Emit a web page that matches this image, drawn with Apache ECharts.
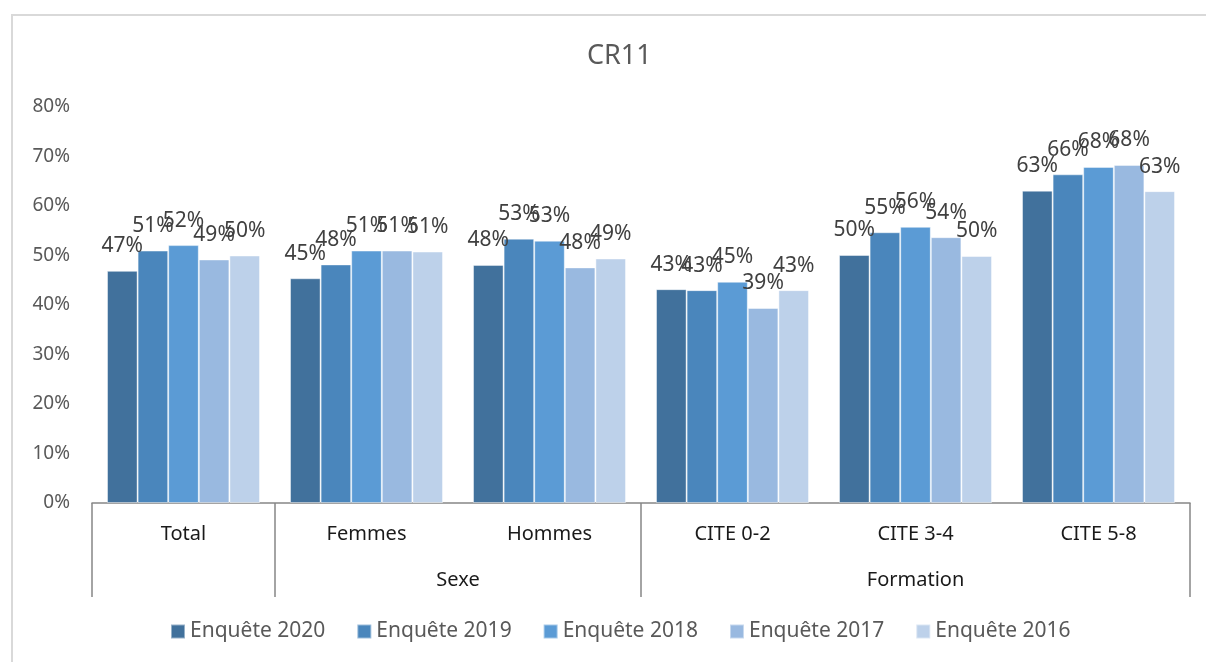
<!DOCTYPE html>
<html>
<head>
<meta charset="utf-8">
<script src="https://cdn.jsdelivr.net/npm/echarts@6/dist/echarts.min.js"></script>
<style>
  html, body { margin: 0; padding: 0; background: #fff; }
  .frame {
    position: absolute; left: 11px; top: 14px;
    width: 1300px; height: 800px;
    border: 2px solid #d9d9d9; box-sizing: border-box;
  }
  #chart { position: absolute; left: 0; top: 0; width: 1206px; height: 662px; }
</style>
</head>
<body>
<div class="frame"></div>
<div id="chart"></div>
<script>
// catégories et groupes
const categories = ['Total', 'Femmes', 'Hommes', 'CITE 0-2', 'CITE 3-4', 'CITE 5-8']
// 13 points (demi-catégories) pour le second niveau de l'axe
const groupLabels = ['', '', '', '', 'Sexe', '', '', '', '', 'Formation', '', '', '']
const groupTicks = [0, 2, 6, 12]

const seriesNames = ['Enquête 2020', 'Enquête 2019', 'Enquête 2018', 'Enquête 2017', 'Enquête 2016']
const v2020 = [46.9, 45.4, 48.1, 43.2, 50.1, 63.1]
const v2019 = [51.0, 48.2, 53.4, 43.0, 54.7, 66.4]
const v2018 = [52.1, 51.0, 53.0, 44.7, 55.8, 67.9]
const v2017 = [49.2, 51.0, 47.6, 39.4, 53.7, 68.3]
const v2016 = [50.0, 50.8, 49.4, 43.0, 49.9, 63.0]
const yTicks = { min: 0, max: 80, interval: 10 }

const colors = ['#41719c', '#4a86bc', '#5b9bd5', '#99b9e0', '#bdd1ea']
const values = [v2020, v2019, v2018, v2017, v2016]

const chart = echarts.init(document.getElementById('chart'))
const font = '"Noto Sans", "Open Sans", sans-serif'

const option = {
  backgroundColor: 'transparent',
  color: colors,
  title: {
    text: 'CR11',
    left: 582,
    top: 38,
    textStyle: { color: '#595959', fontSize: 27, fontWeight: 'normal', fontFamily: font }
  },
  legend: {
    data: seriesNames,
    bottom: 15,
    left: 165,
    itemWidth: 14,
    itemHeight: 14,
    itemGap: 31,
    icon: 'rect',
    textStyle: { color: '#595959', fontSize: 21, fontFamily: font }
  },
  grid: { left: 92, right: 16, top: 107, bottom: 159 },
  xAxis: [
    {
      type: 'category',
      data: categories,
      axisLine: { lineStyle: { color: '#868686', width: 1.5 } },
      axisTick: { show: false },
      axisLabel: { color: '#1a1a1a', fontSize: 20, margin: 21, fontFamily: font, interval: 0 }
    },
    {
      type: 'category',
      position: 'bottom',
      data: groupLabels,
      boundaryGap: false,
      axisLine: { show: false },
      axisTick: {
        show: true,
        length: 94,
        interval: (idx) => groupTicks.includes(idx),
        lineStyle: { color: '#868686', width: 1.5 }
      },
      axisLabel: { color: '#1a1a1a', fontSize: 20, margin: 67, fontFamily: font, interval: 0 }
    }
  ],
  yAxis: {
    type: 'value',
    min: yTicks.min,
    max: yTicks.max,
    interval: yTicks.interval,
    axisLine: { show: false },
    axisTick: { show: false },
    splitLine: { show: false },
    axisLabel: { color: '#595959', fontSize: 19, margin: 22, fontFamily: font, formatter: '{value}%' }
  },
  series: seriesNames.map((name, i) => ({
    name: name,
    type: 'bar',
    data: values[i],
    barGap: 0,
    barCategoryGap: '16.4%',
    itemStyle: { color: colors[i], borderColor: 'rgba(255,255,255,0.45)', borderWidth: 1 },
    label: {
      show: true,
      position: 'top',
      distance: 14,
      color: '#404040',
      fontSize: 21,
      fontFamily: font,
      formatter: (p) => Math.round(p.value) + '%'
    }
  })),
  animation: false
}

chart.setOption(option)
</script>
</body>
</html>
